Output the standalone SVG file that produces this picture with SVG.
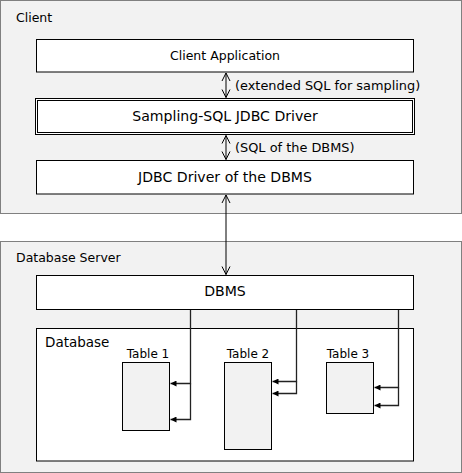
<svg xmlns="http://www.w3.org/2000/svg" width="462" height="473" viewBox="0 0 462 473">
<defs>
<style>
.panel{fill:#f2f2f2;stroke:#808080;stroke-width:1}
.box{fill:#fff;stroke:#000;stroke-width:1}
.tbl{fill:#f2f2f2;stroke:#000;stroke-width:1}
text{font-family:"DejaVu Sans","Verdana",sans-serif;font-size:12.5px;fill:#000}
.c{text-anchor:middle}
.big{font-size:14.1px}
.lbl{font-size:12.9px}
.t{font-size:12px}
.conn{fill:none;stroke:#000;stroke-width:1}
.dconn{fill:none;stroke:#222;stroke-width:1.3}
</style>
<marker id="open" viewBox="0 0 10 10" refX="9" refY="5" markerWidth="10" markerHeight="10" markerUnits="userSpaceOnUse" orient="auto-start-reverse">
<path d="M1,1 L9,5 L1,9" fill="none" stroke="#000" stroke-width="1"/>
</marker>
<marker id="fill" viewBox="0 0 6 6" refX="6" refY="3" markerWidth="6" markerHeight="6" markerUnits="userSpaceOnUse" orient="auto">
<path d="M0,0 L6,3 L0,6 Z" fill="#000"/>
</marker>
</defs>
<g id="client-panel">
<rect class="panel" x="0.5" y="0.5" width="461" height="213"/>
<text x="16" y="21.5">Client</text>
</g>
<g id="server-panel">
<rect class="panel" x="0.5" y="241.5" width="461" height="231"/>
<text x="16" y="261.5">Database Server</text>
</g>
<g id="client-app">
<rect class="box" x="36.5" y="39.5" width="377" height="32.5"/>
<text class="c" x="225" y="59.5">Client Application</text>
</g>
<g id="sampling-driver">
<rect class="box" x="35.5" y="98.5" width="379" height="36"/>
<rect class="box" x="37.5" y="100.5" width="375" height="32"/>
<text class="c big" x="225" y="121">Sampling-SQL JDBC Driver</text>
</g>
<g id="jdbc-driver">
<rect class="box" x="36.5" y="160.5" width="377" height="33.5"/>
<text class="c big" x="225" y="181.5">JDBC Driver of the DBMS</text>
</g>
<g id="dbms">
<rect class="box" x="36.5" y="275.5" width="377" height="34"/>
<text class="c big" x="225" y="295.5">DBMS</text>
</g>
<g id="database">
<rect class="box" x="36.5" y="328.5" width="377" height="132.5"/>
<text x="45" y="347" style="font-size:13.5px">Database</text>
</g>
<g id="table1">
<rect class="tbl" x="122.5" y="362.5" width="47" height="68"/>
<text class="c t" x="148" y="358">Table 1</text>
</g>
<g id="table2">
<rect class="tbl" x="224.5" y="362.5" width="47" height="87"/>
<text class="c t" x="248" y="358">Table 2</text>
</g>
<g id="table3">
<rect class="tbl" x="326.5" y="362.5" width="47" height="51"/>
<text class="c t" x="348" y="358">Table 3</text>
</g>
<g id="connectors">
<line class="conn" x1="226" y1="73" x2="226" y2="97.5" marker-start="url(#open)" marker-end="url(#open)"/>
<text class="lbl" x="235" y="89.5">(extended SQL for sampling)</text>
<line class="conn" x1="226" y1="135.5" x2="226" y2="159.5" marker-start="url(#open)" marker-end="url(#open)"/>
<text class="lbl" x="235" y="151.5">(SQL of the DBMS)</text>
<line class="conn" x1="226" y1="195" x2="226" y2="274.5" marker-start="url(#open)" marker-end="url(#open)"/>
<path class="dconn" d="M190.5,310 V383.5 H170.5" marker-end="url(#fill)"/>
<path class="dconn" d="M190.5,383.5 V419.5 H170.5" marker-end="url(#fill)"/>
<path class="dconn" d="M296.5,310 V381.5 H272.5" marker-end="url(#fill)"/>
<path class="dconn" d="M296.5,381.5 V393.5 H272.5" marker-end="url(#fill)"/>
<path class="dconn" d="M398.5,310 V387.5 H374.5" marker-end="url(#fill)"/>
<path class="dconn" d="M398.5,387.5 V405.5 H374.5" marker-end="url(#fill)"/>
</g>
</svg>
